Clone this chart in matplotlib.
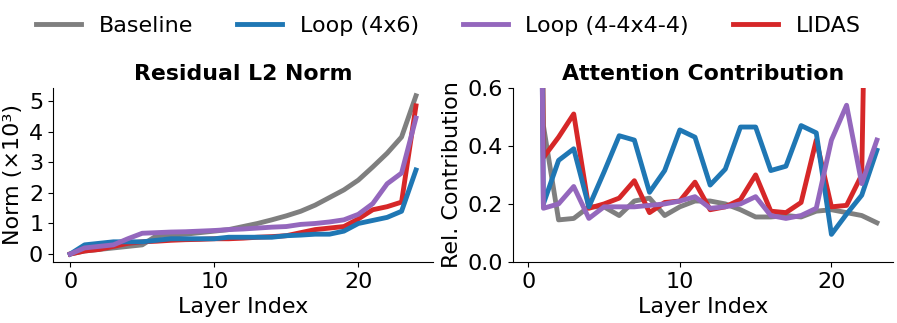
import matplotlib
matplotlib.use('Agg')
from matplotlib import pyplot as plt

# layer indices
layers_norm = list(range(25))
layers_attn = list(range(24))

# Residual L2 norm (x10^3)
norm_baseline = [0.0, 0.1, 0.15, 0.2, 0.25, 0.3, 0.6, 0.62, 0.65, 0.7, 0.75, 0.8, 0.9, 1.0,
                 1.12, 1.25, 1.4, 1.6, 1.85, 2.1, 2.42, 2.85, 3.3, 3.83, 5.18]
norm_loop46 = [0.0, 0.3, 0.35, 0.4, 0.4, 0.4, 0.45, 0.5, 0.5, 0.5, 0.5, 0.55, 0.55, 0.55,
               0.55, 0.6, 0.62, 0.65, 0.65, 0.75, 1.0, 1.1, 1.2, 1.4, 2.75]
norm_loop4444 = [0.0, 0.2, 0.25, 0.3, 0.5, 0.68, 0.7, 0.72, 0.73, 0.75, 0.77, 0.8, 0.82, 0.85,
                 0.88, 0.9, 0.97, 1.0, 1.05, 1.12, 1.3, 1.65, 2.3, 2.65, 4.45]
norm_lidas = [0.0, 0.1, 0.15, 0.25, 0.35, 0.4, 0.42, 0.45, 0.47, 0.48, 0.5, 0.5, 0.52, 0.55,
              0.57, 0.6, 0.7, 0.8, 0.85, 0.9, 1.15, 1.45, 1.55, 1.7, 4.85]

# Attention relative contribution
attn_baseline = [6.0, 0.47, 0.145, 0.15, 0.19, 0.19, 0.16, 0.21, 0.22, 0.16, 0.19, 0.21,
                 0.21, 0.2, 0.18, 0.155, 0.155, 0.16, 0.155, 0.175, 0.18, 0.17, 0.16, 0.135]
attn_loop46 = [6.0, 0.2, 0.35, 0.39, 0.19, 0.31, 0.435, 0.42, 0.24, 0.315, 0.455, 0.43,
               0.265, 0.32, 0.465, 0.465, 0.315, 0.33, 0.47, 0.445, 0.095, 0.165, 0.23, 0.385]
attn_loop4444 = [6.0, 0.185, 0.2, 0.26, 0.15, 0.19, 0.19, 0.19, 0.195, 0.2, 0.21, 0.225,
                 0.185, 0.19, 0.2, 0.225, 0.16, 0.15, 0.16, 0.185, 0.42, 0.54, 0.27, 0.42]
attn_lidas = [6.0, 0.36, 0.43, 0.51, 0.185, 0.2, 0.22, 0.28, 0.17, 0.205, 0.21, 0.275,
              0.18, 0.19, 0.215, 0.3, 0.175, 0.17, 0.205, 0.42, 0.19, 0.195, 0.3, 3.3]

names = ['Baseline', 'Loop (4x6)', 'Loop (4-4x4-4)', 'LIDAS']
colors = ['#7f7f7f', '#1f77b4', '#9467bd', '#d62728']
zorders = [2, 4, 5, 3]

fig = plt.figure(figsize=(8.97, 3.23), dpi=100)
ax1 = fig.add_axes([0.059, 0.189, 0.424, 0.539])
ax2 = fig.add_axes([0.572, 0.189, 0.4235, 0.539])

norm_series = [norm_baseline, norm_loop46, norm_loop4444, norm_lidas]
attn_series = [attn_baseline, attn_loop46, attn_loop4444, attn_lidas]

for ys, name, c, z in zip(norm_series, names, colors, zorders):
    ax1.plot(layers_norm, ys, color=c, lw=3.5, label=name, zorder=z)
for ys, name, c, z in zip(attn_series, names, colors, zorders):
    ax2.plot(layers_attn, ys, color=c, lw=3.5, zorder=z)

ax1.set_title('Residual L2 Norm', fontsize=15.8, fontweight='bold')
ax1.set_xlabel('Layer Index', fontsize=16)
ax1.set_ylabel('Norm (×10³)', fontsize=16)
ax1.set_yticks([0, 1, 2, 3, 4, 5])

ax2.set_title('Attention Contribution', fontsize=15.8, fontweight='bold')
ax2.set_xlabel('Layer Index', fontsize=16)
ax2.set_ylabel('Rel. Contribution', fontsize=16)
ax2.set_ylim(0, 0.6)
ax2.set_yticks([0.0, 0.2, 0.4, 0.6])
ax2.set_xlim(-1.0, 24.06)

for ax in (ax1, ax2):
    ax.spines['top'].set_visible(False)
    ax.spines['right'].set_visible(False)
    ax.tick_params(labelsize=16)
    ax.set_xticks([0, 10, 20])

fig.legend(*ax1.get_legend_handles_labels(), loc='center', bbox_to_anchor=(0.5, 0.92),
           ncol=4, frameon=False, fontsize=16)

fig.savefig('out.png', dpi=100)
